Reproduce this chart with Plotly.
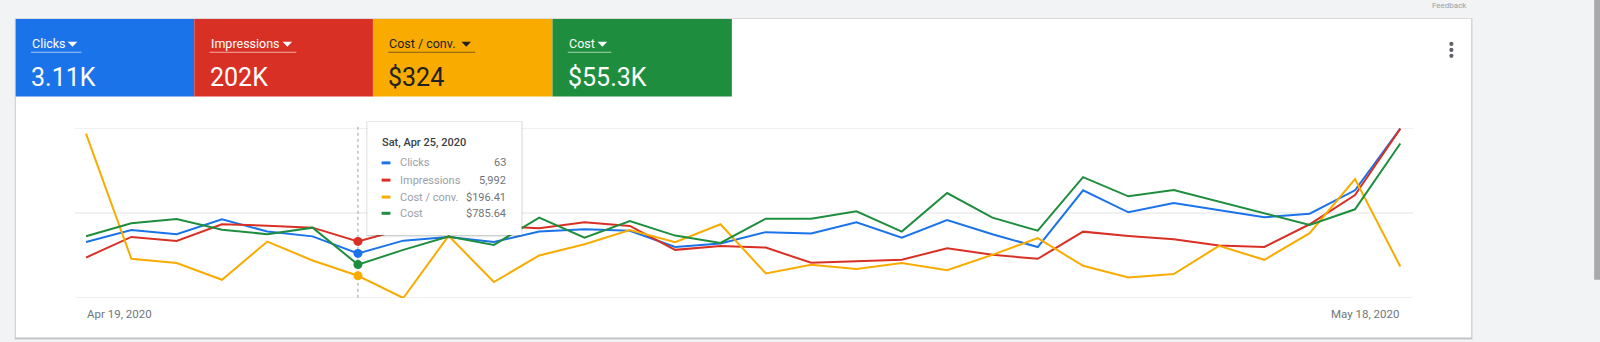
import plotly.graph_objects as go
import pandas as pd

# ---------------- data ----------------
dates = pd.date_range("2020-04-19", "2020-05-18", freq="D")
clicks = [79, 96, 90, 111, 94, 87, 63, 81, 86, 79,
          94, 97, 95, 72, 77, 93, 91, 107, 85, 110,
          90, 72, 152, 121, 134, 124, 114, 119, 152, 239]
impressions = [4284, 6468, 6046, 7808, 7660, 7449, 5992, 7312, 7418, 7629,
               7386, 8019, 7629, 5096, 5518, 5339, 3725, 3862, 4041, 5276,
               4569, 4147, 7027, 6573, 6225, 5550, 5413, 7808, 10899, 17937]
cost_per_conv = [1451, 346, 308, 161, 498, 331, 196.41, 0, 548, 141,
                 375, 475, 600, 492, 651, 216, 293, 255, 308, 246,
                 381, 528, 284, 181, 211, 460, 337, 572, 1049, 278]
cost = [1454, 1758, 1859, 1608, 1501, 1655, 785.64, 1132, 1444, 1250,
        1890, 1421, 1812, 1468, 1297, 1866, 1866, 2040, 1562, 2469,
        1890, 1585, 2844, 2392, 2539, 2265, 1993, 1719, 2087, 3634]

metric_names = ["Clicks", "Impressions", "Cost / conv.", "Cost"]
metric_totals = ["3.11K", "202K", "$324", "$55.3K"]
axis_max = [240, 18000, 1500, 4000]
grid_values = [0, 120, 240]
hover_index = 6

series = [clicks, impressions, cost_per_conv, cost]
colors = ["#1a73e8", "#d93025", "#f9ab00", "#1e8e3e"]
text_colors = ["#ffffff", "#ffffff", "#202124", "#ffffff"]
underline_colors = ["rgba(255,255,255,0.6)", "rgba(255,255,255,0.6)",
                    "rgba(32,33,36,0.55)", "rgba(255,255,255,0.6)"]

# ---------------- geometry helpers (pixels -> paper) ----------------
FIG_W, FIG_H = 1600, 342
L, R, T, B = 75, 1413.3, 127.7, 298.3
W, H = R - L, B - T


def X(px):
    return (px - L) / W


def Y(py):
    return (B - py) / H


FONT = "Roboto, Arial, sans-serif"

fig = go.Figure()
yaxes = ["y", "y2", "y3", "y4"]
for name, vals, col, ya in zip(metric_names, series, colors, yaxes):
    fig.add_trace(go.Scatter(x=dates, y=vals, mode="lines", name=name, yaxis=ya,
                             line=dict(color=col, width=2), hoverinfo="skip"))
for name, vals, col, ya in zip(metric_names, series, colors, yaxes):
    fig.add_trace(go.Scatter(x=[dates[hover_index]], y=[vals[hover_index]], mode="markers",
                             yaxis=ya, marker=dict(color=col, size=9), hoverinfo="skip",
                             showlegend=False))

shapes = []
annotations = []

# card shadow + card
shapes.append(dict(type="rect", xref="paper", yref="paper", x0=X(14.5), x1=X(1473), y0=Y(17.5), y1=Y(340.5),
                   fillcolor="rgba(60,64,67,0.10)", line=dict(width=0), layer="below"))
shapes.append(dict(type="rect", xref="paper", yref="paper", x0=X(15.2), x1=X(1472.4), y0=Y(18), y1=Y(339.3),
                   fillcolor="rgba(60,64,67,0.22)", line=dict(width=0), layer="below"))
shapes.append(dict(type="rect", xref="paper", yref="paper", x0=X(15.7), x1=X(1471.7), y0=Y(18.3), y1=Y(338),
                   fillcolor="#ffffff", line=dict(width=0), layer="below"))

# horizontal gridlines (on the Clicks scale)
for gv in grid_values:
    shapes.append(dict(type="line", xref="paper", yref="y", x0=0, x1=1, y0=gv, y1=gv,
                       line=dict(color="#e2e2e2", width=1), layer="below"))

# metric tiles
tile_left = [15.7, 194.3, 373.0, 552.6]
tile_right = [194.3, 373.0, 552.6, 732.0]
tri_left = [67.7, 282.6, 461.5, 597.7]
for i in range(4):
    shapes.append(dict(type="rect", xref="paper", yref="paper", x0=X(tile_left[i]), x1=X(tile_right[i]),
                       y0=Y(18.3), y1=Y(96), fillcolor=colors[i], line=dict(width=0), layer="below"))
    tx = tile_left[i] + 15.3
    annotations.append(dict(xref="paper", yref="paper", x=X(tx - 1), y=Y(42.4), xanchor="left", yanchor="middle",
                            text=metric_names[i], showarrow=False,
                            font=dict(family=FONT, size=12.5, color=text_colors[i])))
    annotations.append(dict(xref="paper", yref="paper", x=X(tx - 2), y=Y(77.2), xanchor="left", yanchor="middle",
                            text=metric_totals[i], showarrow=False,
                            font=dict(family=FONT, size=25, color=text_colors[i])))
    a = tri_left[i]
    shapes.append(dict(type="path", xref="paper", yref="paper",
                       path=f"M {X(a)} {Y(41.2)} L {X(a + 9.6)} {Y(41.2)} L {X(a + 4.8)} {Y(46.2)} Z",
                       fillcolor=text_colors[i], line=dict(width=0), layer="below"))
    shapes.append(dict(type="line", xref="paper", yref="paper", x0=X(tx), x1=X(a + 13.8),
                       y0=Y(51.7), y1=Y(51.7), line=dict(color=underline_colors[i], width=1), layer="below"))

# overflow menu dots
for cy in (43.3, 49.3, 55.3):
    shapes.append(dict(type="circle", xref="paper", yref="paper", x0=X(1449.6), x1=X(1453.8),
                       y0=Y(cy - 2.1), y1=Y(cy + 2.1), fillcolor="#5f6368", line=dict(width=0), layer="below"))

# scrollbar
shapes.append(dict(type="rect", xref="paper", yref="paper", x0=X(1594.5), x1=X(1601), y0=Y(-2), y1=Y(280),
                   fillcolor="#a9a9a9", line=dict(width=0), layer="below"))
annotations.append(dict(xref="paper", yref="paper", x=X(1430), y=Y(4.5), xanchor="left", yanchor="middle",
                        text="Feedback", showarrow=False, font=dict(family=FONT, size=8, color="#9aa0a6")))

# hover guide line
shapes.append(dict(type="line", xref="x", yref="paper", x0=dates[hover_index], x1=dates[hover_index],
                   y0=Y(126.5), y1=Y(298.3), line=dict(color="#9aa0a6", width=1, dash="dot"), layer="below"))

# tooltip
shapes.append(dict(type="rect", xref="paper", yref="paper", x0=X(366.3), x1=X(522.9), y0=Y(121), y1=Y(237.3),
                   fillcolor="rgba(60,64,67,0.10)", line=dict(width=0), layer="above"))
shapes.append(dict(type="rect", xref="paper", yref="paper", x0=X(366.8), x1=X(522.3), y0=Y(121.4), y1=Y(236.2),
                   fillcolor="rgba(60,64,67,0.16)", line=dict(width=0), layer="above"))
shapes.append(dict(type="rect", xref="paper", yref="paper", x0=X(367.3), x1=X(521.7), y0=Y(121.7), y1=Y(235),
                   fillcolor="#ffffff", line=dict(width=0), layer="above"))

annotations.append(dict(xref="paper", yref="paper", x=X(380), y=Y(142.3), xanchor="left", yanchor="middle",
                        text=dates[hover_index].strftime("%a, %b ") + str(dates[hover_index].day)
                        + dates[hover_index].strftime(", %Y"),
                        showarrow=False, font=dict(family=FONT, size=11, color="#3c4043", weight=500)))

hover_values = [f"{clicks[hover_index]:,}", f"{impressions[hover_index]:,}",
                f"${cost_per_conv[hover_index]:,.2f}", f"${cost[hover_index]:,.2f}"]
row_y = [162.7, 180.0, 197.0, 213.3]
for i in range(4):
    shapes.append(dict(type="rect", xref="paper", yref="paper", x0=X(381.7), x1=X(390.5),
                       y0=Y(row_y[i] - 1.5), y1=Y(row_y[i] + 1.5), fillcolor=colors[i],
                       line=dict(width=0), layer="above"))
    annotations.append(dict(xref="paper", yref="paper", x=X(398.3), y=Y(row_y[i]), xanchor="left",
                            yanchor="middle", text=metric_names[i], showarrow=False,
                            font=dict(family=FONT, size=11, color="#9aa0a6")))
    annotations.append(dict(xref="paper", yref="paper", x=X(507.7), y=Y(row_y[i]), xanchor="right",
                            yanchor="middle", text=hover_values[i], showarrow=False,
                            font=dict(family=FONT, size=11, color="#70757a")))

# x tick labels (first / last date)
annotations.append(dict(xref="x", yref="paper", x=dates[0], y=Y(314.5), xanchor="left", yanchor="middle",
                        text=dates[0].strftime("%b ") + str(dates[0].day) + dates[0].strftime(", %Y"),
                        showarrow=False, xshift=-1, font=dict(family=FONT, size=11.5, color="#70757a")))
annotations.append(dict(xref="x", yref="paper", x=dates[-1], y=Y(314.5), xanchor="right", yanchor="middle",
                        text=dates[-1].strftime("%b ") + str(dates[-1].day) + dates[-1].strftime(", %Y"),
                        showarrow=False, xshift=1, font=dict(family=FONT, size=11.5, color="#70757a")))

x_start = dates[0] - pd.Timedelta(hours=0.243 * 24)
x_end = dates[0] + pd.Timedelta(hours=29.28 * 24)

fig.update_layout(
    width=FIG_W, height=FIG_H,
    margin=dict(l=L, r=FIG_W - R, t=T, b=FIG_H - B, pad=0),
    paper_bgcolor="#f1f3f4", plot_bgcolor="rgba(0,0,0,0)",
    showlegend=False, hovermode=False,
    font=dict(family=FONT),
    xaxis=dict(type="date", range=[x_start, x_end], showgrid=False, zeroline=False,
               showticklabels=False, ticks="", showline=False, fixedrange=True),
    yaxis=dict(range=[0, axis_max[0]], showticklabels=False, showgrid=False, zeroline=False,
               showline=False, ticks="", fixedrange=True),
    yaxis2=dict(range=[0, axis_max[1]], overlaying="y", visible=False, fixedrange=True),
    yaxis3=dict(range=[0, axis_max[2]], overlaying="y", visible=False, fixedrange=True),
    yaxis4=dict(range=[0, axis_max[3]], overlaying="y", visible=False, fixedrange=True),
    shapes=shapes,
    annotations=annotations,
)

fig.write_html("out.html", config={"displayModeBar": False, "staticPlot": True})
